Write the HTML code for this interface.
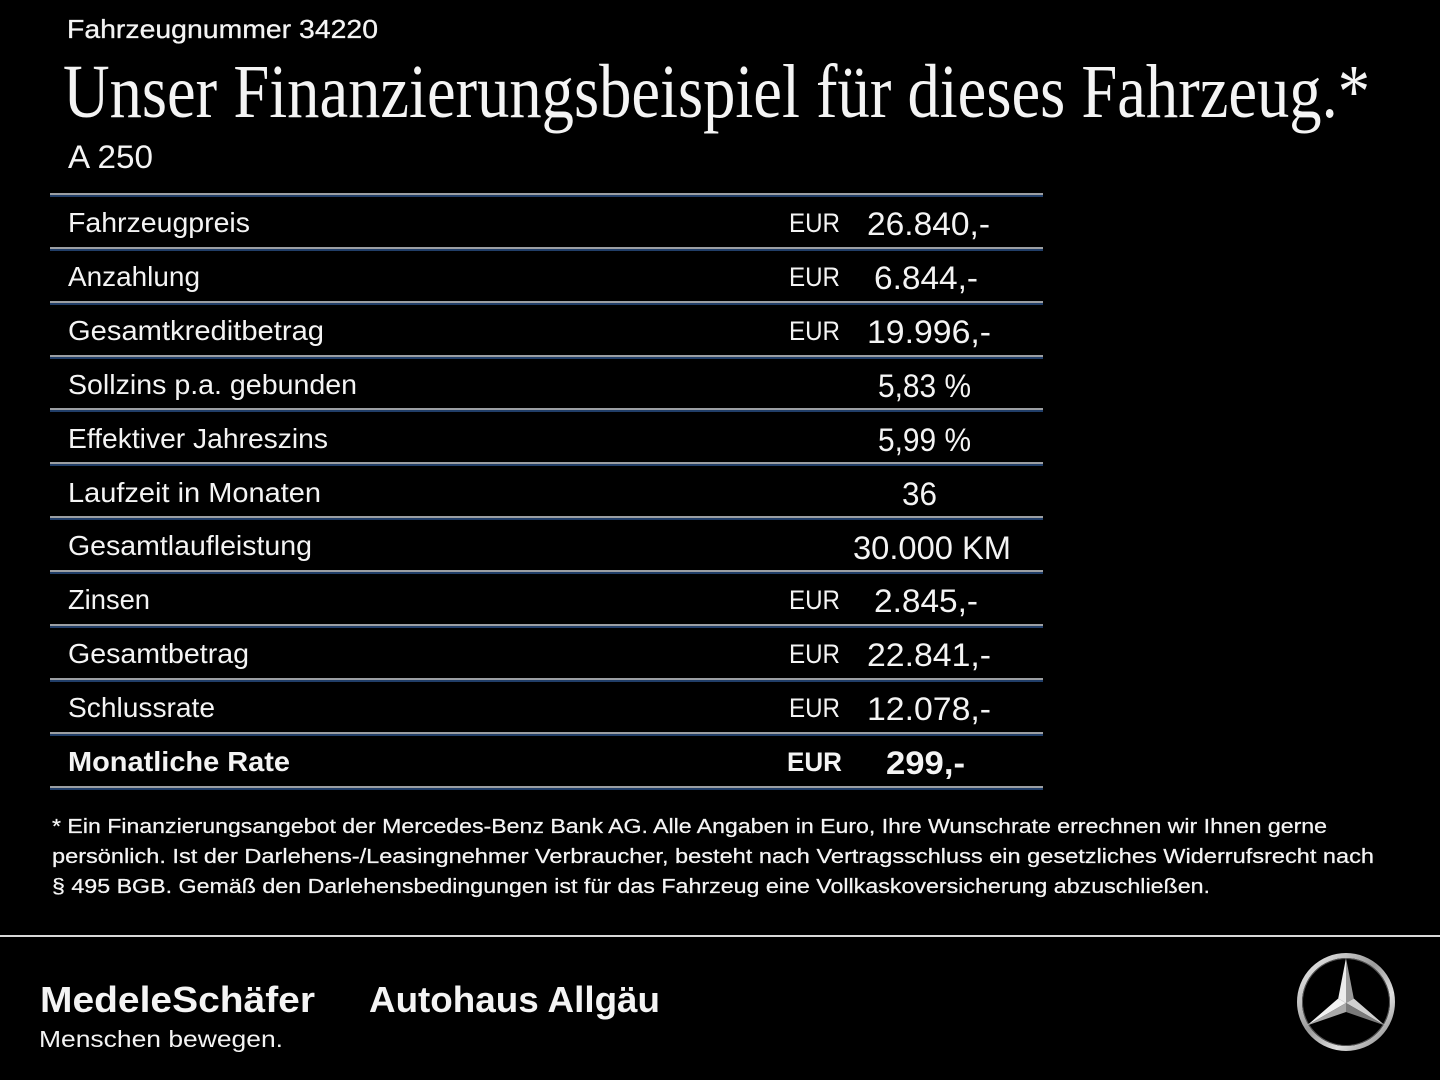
<!DOCTYPE html>
<html>
<head>
<meta charset="utf-8">
<style>
html,body{margin:0;padding:0;background:#000;}
svg{display:block;}
text{fill:#f4f4f4;}
.s{font-family:"Liberation Sans",sans-serif;}
.r{font-family:"Liberation Serif",serif;}
</style>
</head>
<body>
<svg width="1440" height="1080" viewBox="0 0 1440 1080" xmlns="http://www.w3.org/2000/svg">
<defs>
<linearGradient id="ring" x1="0" y1="0" x2="1" y2="1">
<stop offset="0" stop-color="#f4f4f4"/>
<stop offset="0.45" stop-color="#9a9a9a"/>
<stop offset="0.7" stop-color="#e0e0e0"/>
<stop offset="1" stop-color="#7a7a7a"/>
</linearGradient>
<g id="ln"><rect x="50" y="0" width="993" height="2" fill="#9c9fa3"/><rect x="50" y="2" width="993" height="2" fill="#213e68"/></g>
</defs>
<rect width="1440" height="1080" fill="#000"/>

<text class="s" x="67" y="38" font-size="26" textLength="311" lengthAdjust="spacingAndGlyphs" stroke="#f4f4f4" stroke-width="0.3">Fahrzeugnummer 34220</text>
<text class="r" x="63" y="117" font-size="76" textLength="1307" lengthAdjust="spacingAndGlyphs">Unser Finanzierungsbeispiel für dieses Fahrzeug.*</text>
<text class="s" x="68" y="168" font-size="32" textLength="85" lengthAdjust="spacingAndGlyphs">A 250</text>

<!-- separator lines -->
<use href="#ln" y="193"/>
<use href="#ln" y="247"/>
<use href="#ln" y="301"/>
<use href="#ln" y="355"/>
<use href="#ln" y="408"/>
<use href="#ln" y="462"/>
<use href="#ln" y="516"/>
<use href="#ln" y="570"/>
<use href="#ln" y="624"/>
<use href="#ln" y="678"/>
<use href="#ln" y="732"/>
<use href="#ln" y="786"/>

<!-- labels -->
<g font-size="28">
<text class="s" x="68" y="232" font-size="28" textLength="182" lengthAdjust="spacingAndGlyphs">Fahrzeugpreis</text>
<text class="s" x="68" y="286" font-size="28" textLength="132" lengthAdjust="spacingAndGlyphs">Anzahlung</text>
<text class="s" x="68" y="340" font-size="28" textLength="256" lengthAdjust="spacingAndGlyphs">Gesamtkreditbetrag</text>
<text class="s" x="68" y="394" font-size="28" textLength="289" lengthAdjust="spacingAndGlyphs">Sollzins p.a. gebunden</text>
<text class="s" x="68" y="448" font-size="28" textLength="260" lengthAdjust="spacingAndGlyphs">Effektiver Jahreszins</text>
<text class="s" x="68" y="502" font-size="28" textLength="253" lengthAdjust="spacingAndGlyphs">Laufzeit in Monaten</text>
<text class="s" x="68" y="555" font-size="28" textLength="244" lengthAdjust="spacingAndGlyphs">Gesamtlaufleistung</text>
<text class="s" x="68" y="609" font-size="28" textLength="82" lengthAdjust="spacingAndGlyphs">Zinsen</text>
<text class="s" x="68" y="663" font-size="28" textLength="181" lengthAdjust="spacingAndGlyphs">Gesamtbetrag</text>
<text class="s" x="68" y="717" font-size="28" textLength="147" lengthAdjust="spacingAndGlyphs">Schlussrate</text>
<text class="s" x="68" y="771" font-size="28" font-weight="bold" textLength="222" lengthAdjust="spacingAndGlyphs">Monatliche Rate</text>
</g>

<!-- EUR -->
<text class="s" x="789" y="232" font-size="27" textLength="51" lengthAdjust="spacingAndGlyphs">EUR</text>
<text class="s" x="789" y="286" font-size="27" textLength="51" lengthAdjust="spacingAndGlyphs">EUR</text>
<text class="s" x="789" y="340" font-size="27" textLength="51" lengthAdjust="spacingAndGlyphs">EUR</text>
<text class="s" x="789" y="609" font-size="27" textLength="51" lengthAdjust="spacingAndGlyphs">EUR</text>
<text class="s" x="789" y="663" font-size="27" textLength="51" lengthAdjust="spacingAndGlyphs">EUR</text>
<text class="s" x="789" y="717" font-size="27" textLength="51" lengthAdjust="spacingAndGlyphs">EUR</text>
<text class="s" x="787" y="771" font-size="27" font-weight="bold" textLength="55" lengthAdjust="spacingAndGlyphs">EUR</text>

<!-- values -->
<text class="s" x="867" y="235" font-size="32" textLength="123" lengthAdjust="spacingAndGlyphs">26.840,-</text>
<text class="s" x="874" y="289" font-size="32" textLength="104" lengthAdjust="spacingAndGlyphs">6.844,-</text>
<text class="s" x="867" y="343" font-size="32" textLength="124" lengthAdjust="spacingAndGlyphs">19.996,-</text>
<text class="s" x="878" y="397" font-size="32" textLength="93" lengthAdjust="spacingAndGlyphs">5,83 %</text>
<text class="s" x="878" y="451" font-size="32" textLength="93" lengthAdjust="spacingAndGlyphs">5,99 %</text>
<text class="s" x="902" y="505" font-size="32" textLength="35" lengthAdjust="spacingAndGlyphs">36</text>
<text class="s" x="853" y="559" font-size="32" textLength="158" lengthAdjust="spacingAndGlyphs">30.000 KM</text>
<text class="s" x="874" y="612" font-size="32" textLength="104" lengthAdjust="spacingAndGlyphs">2.845,-</text>
<text class="s" x="867" y="666" font-size="32" textLength="124" lengthAdjust="spacingAndGlyphs">22.841,-</text>
<text class="s" x="867" y="720" font-size="32" textLength="124" lengthAdjust="spacingAndGlyphs">12.078,-</text>
<text class="s" x="886" y="774" font-size="32" font-weight="bold" textLength="79" lengthAdjust="spacingAndGlyphs">299,-</text>

<!-- footnote -->
<text class="s" x="52" y="833" font-size="20" textLength="1275" lengthAdjust="spacingAndGlyphs" stroke="#f4f4f4" stroke-width="0.25">* Ein Finanzierungsangebot der Mercedes-Benz Bank AG. Alle Angaben in Euro, Ihre Wunschrate errechnen wir Ihnen gerne</text>
<text class="s" x="52" y="863" font-size="20" textLength="1322" lengthAdjust="spacingAndGlyphs" stroke="#f4f4f4" stroke-width="0.25">persönlich. Ist der Darlehens-/Leasingnehmer Verbraucher, besteht nach Vertragsschluss ein gesetzliches Widerrufsrecht nach</text>
<text class="s" x="52" y="893" font-size="20" textLength="1158" lengthAdjust="spacingAndGlyphs" stroke="#f4f4f4" stroke-width="0.25">§ 495 BGB. Gemäß den Darlehensbedingungen ist für das Fahrzeug eine Vollkaskoversicherung abzuschließen.</text>

<!-- footer separator -->
<rect x="0" y="935" width="1440" height="2" fill="#d8d8d8"/>

<!-- logos -->
<text class="s" x="40" y="1012" font-size="36" font-weight="bold" textLength="275" lengthAdjust="spacingAndGlyphs">MedeleSchäfer</text>
<text class="s" x="369" y="1012" font-size="36" font-weight="bold" textLength="291" lengthAdjust="spacingAndGlyphs">Autohaus Allgäu</text>
<text class="s" x="39" y="1047" font-size="23" textLength="244" lengthAdjust="spacingAndGlyphs">Menschen bewegen.</text>

<!-- Mercedes star -->
<g>
<circle cx="1346" cy="1002" r="46.5" fill="none" stroke="url(#ring)" stroke-width="5"/>
<circle cx="1346" cy="1002" r="43.5" fill="none" stroke="#555" stroke-width="1"/>
<polygon points="1346,958 1346,1003 1338.2,998.5" fill="#ececec"/>
<polygon points="1346,958 1346,1003 1353.8,998.5" fill="#9a9a9a"/>
<polygon points="1385,1025.5 1346,1003 1353.8,998.5" fill="#d0d0d0"/>
<polygon points="1385,1025.5 1346,1003 1346,1012" fill="#7a7a7a"/>
<polygon points="1307,1025.5 1346,1003 1338.2,998.5" fill="#f2f2f2"/>
<polygon points="1307,1025.5 1346,1003 1346,1012" fill="#a8a8a8"/>
</g>
</svg>
</body>
</html>
